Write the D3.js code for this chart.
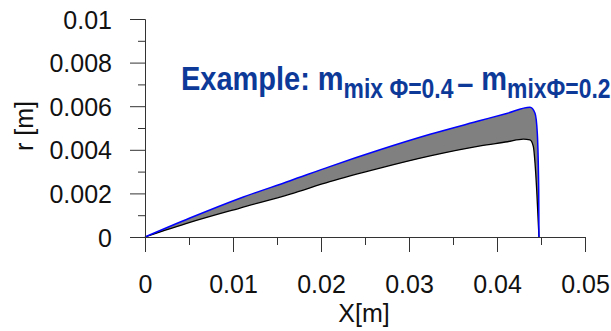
<!DOCTYPE html>
<html>
<head>
<meta charset="utf-8">
<script src="https://cdn.jsdelivr.net/npm/d3@7"></script>
<style>
  html, body { margin: 0; padding: 0; background: #fff; }
  svg { display: block; }
  text { font-family: "Liberation Sans", Arial, sans-serif; }
</style>
</head>
<body>
<svg id="chart" width="611" height="331"></svg>
<script>
// Flame-front radius r along axial position X for the two mixtures
const upperX = [0, 0.0051, 0.0108, 0.0165, 0.0210, 0.0267, 0.0324, 0.0381, 0.0412, 0.04375, 0.04432, 0.04458, 0.04474, 0.04477];
const upperR = [0, 0.00087, 0.00178, 0.00258, 0.00323, 0.00400, 0.00471, 0.00534, 0.00568, 0.00595, 0.00568, 0.00476, 0.00216, 0];

const lowerX = [0, 0.0051, 0.0108, 0.0165, 0.0210, 0.0267, 0.0324, 0.0381, 0.0412, 0.0430, 0.04375, 0.04413, 0.04432, 0.04451, 0.04469, 0.04477];
const lowerR = [0, 0.00067, 0.00133, 0.00197, 0.00254, 0.00316, 0.00372, 0.00418, 0.00437, 0.00449, 0.00445, 0.00415, 0.00339, 0.00216, 0.00065, 0];

// Axis ticks
const xMajorTicks = [0, 0.01, 0.02, 0.03, 0.04, 0.05];
const xMinorTicks = [0.005, 0.015, 0.025, 0.035, 0.045];
const yMajorTicks = [0, 0.002, 0.004, 0.006, 0.008, 0.01];
const yMinorTicks = [0.001, 0.003, 0.005, 0.007, 0.009];
const xTickLabels = ["0", "0.01", "0.02", "0.03", "0.04", "0.05"];
const yTickLabels = ["0", "0.002", "0.004", "0.006", "0.008", "0.01"];

const svg = d3.select("#chart");

const x = d3.scaleLinear().domain([0, 0.05]).range([145, 585]);
const y = d3.scaleLinear().domain([0, 0.01]).range([237, 19]);

const upper = upperX.map((v, i) => [v, upperR[i]]);
const lower = lowerX.map((v, i) => [v, lowerR[i]]);

const line = d3.line()
  .x(d => x(d[0]))
  .y(d => y(d[1]))
  .curve(d3.curveMonotoneX);

// Shaded band between the two radius profiles
const upperPath = line(upper);
const lowerPath = line(lower.slice().reverse()).replace(/^M/, "L");
svg.append("path")
  .attr("d", upperPath + lowerPath + "Z")
  .attr("fill", "#808080")
  .attr("stroke", "none");

svg.append("path")
  .attr("d", line(lower))
  .attr("fill", "none")
  .attr("stroke", "#000")
  .attr("stroke-width", 1.3);

svg.append("path")
  .attr("d", upperPath)
  .attr("fill", "none")
  .attr("stroke", "#0000ff")
  .attr("stroke-width", 1.5);

// Axes
const axisColor = "#333";
const tickFont = "25px";

function styleAxis(g) {
  g.select(".domain").attr("stroke", axisColor);
  g.selectAll(".tick line").attr("stroke", axisColor);
  g.selectAll(".tick text")
    .attr("fill", "#111")
    .style("font-family", '"Liberation Sans", Arial, sans-serif')
    .style("font-size", tickFont);
}

// minor ticks
svg.append("g")
  .attr("transform", "translate(0,237)")
  .call(d3.axisBottom(x).tickValues(xMinorTicks).tickSize(8).tickSizeOuter(0).tickFormat(""))
  .call(styleAxis);
svg.append("g")
  .attr("transform", "translate(145,0)")
  .call(d3.axisLeft(y).tickValues(yMinorTicks).tickSize(7).tickSizeOuter(0).tickFormat(""))
  .call(styleAxis);

// major ticks with labels
svg.append("g")
  .attr("transform", "translate(0,237)")
  .call(d3.axisBottom(x).tickValues(xMajorTicks).tickSize(15).tickSizeOuter(0).tickPadding(23)
    .tickFormat((d, i) => xTickLabels[i]))
  .call(styleAxis);
svg.append("g")
  .attr("transform", "translate(145,0)")
  .call(d3.axisLeft(y).tickValues(yMajorTicks).tickSize(15).tickSizeOuter(0).tickPadding(18)
    .tickFormat((d, i) => yTickLabels[i]))
  .call(styleAxis)
  .call(g => g.selectAll(".tick text").attr("dy", "0.36em"));

// Axis titles
svg.append("text")
  .attr("x", 364).attr("y", 321.5)
  .attr("text-anchor", "middle")
  .attr("fill", "#111")
  .style("font-size", "25px")
  .text("X[m]");

svg.append("text")
  .attr("transform", "translate(33,126) rotate(-90)")
  .attr("text-anchor", "middle")
  .attr("fill", "#111")
  .style("font-size", "25px")
  .text("r [m]");

// Annotation
const titleColor = "#0d3a99";
const title = svg.append("text")
  .attr("x", 0).attr("y", 0)
  .attr("fill", titleColor)
  .style("font-weight", "bold")
  .style("font-size", "31px");
title.append("tspan").text("Example: m");
title.append("tspan").attr("dy", 7.5).style("font-size", "24.5px").text("mix \u03A6=0.4");
title.append("tspan").attr("dx", 4).attr("dy", -3.5).text("\u2013");
title.append("tspan").attr("dy", -4).text(" m");
title.append("tspan").attr("dy", 7.5).style("font-size", "24.5px").text("mix\u03A6=0.2");

const tw = title.node().getComputedTextLength();
title.attr("transform", `translate(181,90) scale(${426 / tw},1.1)`);
</script>
</body>
</html>
